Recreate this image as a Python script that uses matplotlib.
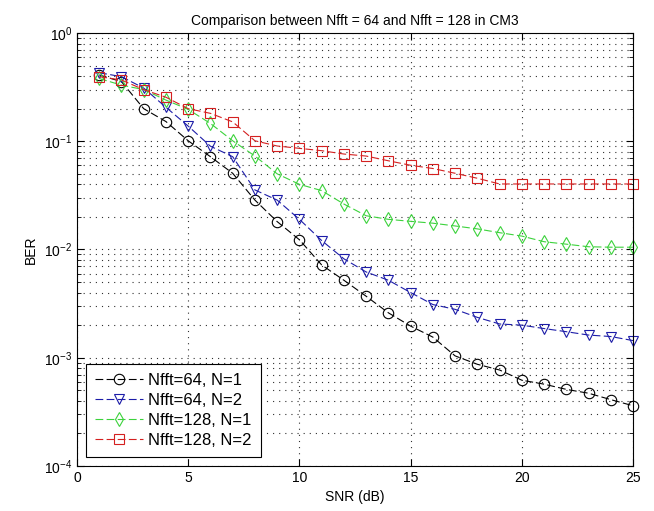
import numpy as np
import matplotlib.pyplot as plt

plt.rcParams['font.family'] = ['Liberation Sans', 'DejaVu Sans']
plt.rcParams['mathtext.default'] = 'regular'

snr = list(range(1, 26))

ber_64_n1 = [0.41, 0.355, 0.20, 0.152, 0.101, 0.072, 0.0506, 0.0286, 0.0181, 0.0123,
             0.0072, 0.0052, 0.0037, 0.0026, 0.00196, 0.00155, 0.00104, 0.00087, 0.00077, 0.00062,
             0.00057, 0.00051, 0.00047, 0.00041, 0.00036]
ber_64_n2 = [0.43, 0.395, 0.31, 0.206, 0.138, 0.090, 0.072, 0.0355, 0.0286, 0.019,
             0.0121, 0.0082, 0.0062, 0.0052, 0.0040, 0.0031, 0.0028, 0.00236, 0.00205, 0.00200,
             0.00186, 0.00174, 0.00162, 0.00157, 0.00144]
ber_128_n1 = [0.38, 0.33, 0.30, 0.24, 0.197, 0.146, 0.101, 0.073, 0.050, 0.040,
              0.035, 0.0263, 0.0205, 0.019, 0.0182, 0.0175, 0.0165, 0.0155, 0.0143, 0.0133,
              0.0118, 0.0112, 0.0106, 0.0105, 0.0105]
ber_128_n2 = [0.395, 0.368, 0.30, 0.255, 0.20, 0.181, 0.151, 0.101, 0.0904, 0.086,
              0.0818, 0.0762, 0.073, 0.066, 0.060, 0.056, 0.0506, 0.0455, 0.0403, 0.0403,
              0.0403, 0.0403, 0.0403, 0.0403, 0.0403]

labels = ['Nfft=64, N=1', 'Nfft=64, N=2', 'Nfft=128, N=1', 'Nfft=128, N=2']
series = [ber_64_n1, ber_64_n2, ber_128_n1, ber_128_n2]
colors = ['black', '#1c1ca8', '#3cd23c', '#d42020']
markers = ['o', 'v', 'd', 's']

fig = plt.figure(figsize=(6.54, 5.11), dpi=100)
ax = fig.add_axes([0.1177, 0.0881, 0.8503, 0.8473])

for ber, lab, c, m in zip(series, labels, colors, markers):
    ax.semilogy(snr, ber, linestyle='--', dashes=(7, 3), color=c, marker=m, markersize=7.5,
                markerfacecolor='none', markeredgecolor=c, linewidth=0.8,
                markeredgewidth=0.8, label=lab, clip_on=False)

ax.set_xlim(0, 25)
ax.set_ylim(1e-4, 1)
ax.set_xticks([0, 5, 10, 15, 20, 25])
grid_style = dict(linestyle=(0, (1, 4.5)), color='#303030', linewidth=0.8)
ax.grid(True, which='major', axis='x', **grid_style)
ax.grid(True, which='both', axis='y', **grid_style)
ax.tick_params(which='both', direction='in', top=True, right=True, labelsize=10)
ax.tick_params(which='major', length=5)
ax.tick_params(which='minor', length=3)
for s in ax.spines.values():
    s.set_linewidth(0.8)

ax.set_title('Comparison between Nfft = 64 and Nfft = 128 in CM3', fontsize=10)
ax.set_xlabel('SNR (dB)', fontsize=10)
ax.set_ylabel('BER', fontsize=10)

leg = ax.legend(loc='lower left', bbox_to_anchor=(0.016, 0.02), fancybox=False,
                edgecolor='black', framealpha=1, fontsize=12, handlelength=2.9,
                borderaxespad=0, labelspacing=0.3, handletextpad=0.3, borderpad=0.55)
leg.get_frame().set_linewidth(0.8)

fig.savefig('out.png', dpi=100)
